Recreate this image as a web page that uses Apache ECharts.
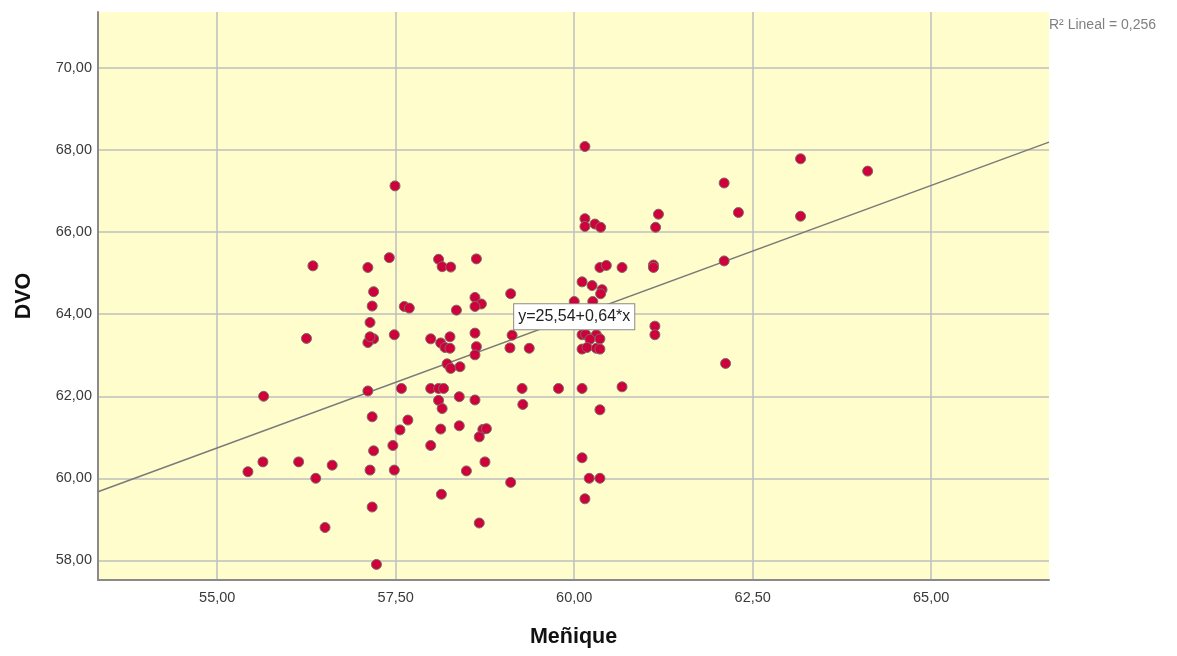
<!DOCTYPE html>
<html>
<head>
<meta charset="utf-8">
<title>DVO vs Meñique</title>
<script src="https://cdn.jsdelivr.net/npm/echarts@6/dist/echarts.min.js"></script>
<style>
  html, body { margin: 0; padding: 0; background: #ffffff; }
  #chart { width: 1177px; height: 656px; }
</style>
</head>
<body>
<div id="chart"></div>
<script>
// Meñique (x) values of each case
const menique = [
  57.49, 57.41, 56.34, 57.11, 57.19, 57.17, 57.14, 56.25, 57.19, 57.11,
  57.48, 55.65, 57.11, 57.58, 57.17, 57.56, 57.46, 57.19, 55.64, 55.43,
  56.14, 56.61, 56.38, 57.14, 57.48, 57.17, 56.51, 57.23, 58.10, 58.15,
  58.27, 58.63, 57.62, 57.69, 58.35, 58.61, 58.70, 58.61, 59.11, 57.99,
  58.26, 58.13, 58.19, 58.26, 58.61, 58.63, 58.61, 59.13, 59.10, 59.37,
  58.22, 58.27, 58.40, 57.99, 58.10, 58.17, 58.39, 58.61, 59.27, 59.78,
  58.10, 58.15, 59.28, 57.67, 58.13, 58.39, 58.72, 58.77, 58.67, 57.99,
  58.49, 58.75, 59.11, 58.14, 58.67, 60.15, 60.15, 60.15, 60.29, 60.37,
  61.18, 61.14, 60.36, 60.45, 60.67, 61.11, 61.11, 60.11, 60.25, 60.39,
  60.37, 60.00, 60.26, 61.13, 61.13, 60.11, 60.16, 60.31, 60.36, 60.22,
  60.11, 60.18, 60.31, 60.36, 60.11, 60.67, 60.36, 60.11, 60.21, 60.36,
  60.15, 62.10, 63.17, 64.11, 62.30, 63.17, 62.10, 62.12, 57.14
];

// DVO (y) values of each case, same order
const dvo = [
  67.13, 65.38, 65.18, 65.14, 64.55, 64.20, 63.80, 63.41, 63.40, 63.31,
  63.50, 62.00, 62.13, 62.19, 61.50, 61.18, 60.80, 60.67, 60.40, 60.16,
  60.40, 60.32, 60.00, 60.20, 60.20, 59.30, 58.80, 57.90, 65.34, 65.16,
  65.15, 65.35, 64.19, 64.15, 64.10, 64.41, 64.25, 64.19, 64.50, 63.40,
  63.45, 63.30, 63.19, 63.17, 63.54, 63.21, 63.01, 63.49, 63.18, 63.17,
  62.79, 62.68, 62.72, 62.19, 62.19, 62.19, 61.99, 61.91, 62.19, 62.19,
  61.90, 61.70, 61.80, 61.42, 61.20, 61.28, 61.19, 61.21, 61.01, 60.80,
  60.18, 60.40, 59.90, 59.61, 58.91, 68.09, 66.33, 66.14, 66.20, 66.12,
  66.44, 66.12, 65.14, 65.19, 65.14, 65.20, 65.14, 64.79, 64.70, 64.60,
  64.50, 64.31, 64.31, 63.71, 63.50, 63.50, 63.51, 63.50, 63.40, 63.39,
  63.15, 63.19, 63.17, 63.15, 62.19, 62.23, 61.67, 60.50, 60.00, 60.00,
  59.50, 67.20, 67.79, 67.49, 66.48, 66.39, 65.30, 62.80, 63.45
];

// Tick values shown on each axis
const xTicks = [55, 57.5, 60, 62.5, 65];
const yTicks = [58, 60, 62, 64, 66, 68, 70];

// Axis ranges
const xRange = [53.33, 66.65];
const yRange = [57.52, 71.37];

// Linear fit: y = a + b*x
const fitIntercept = 25.54;
const fitSlope = 0.64;
const fitR2 = 0.256;

const comma = (v, d) => v.toFixed(d).replace('.', ',');
const fitAt = x => fitIntercept + fitSlope * x;

const points = menique.map((x, i) => [x, dvo[i]]);
const fitLine = [[xRange[0], fitAt(xRange[0])], [xRange[1], fitAt(xRange[1])]];
const labelX = 60;

const sans = "'Liberation Sans', Arial, sans-serif";

const chart = echarts.init(document.getElementById('chart'), null, { renderer: 'canvas' });

const tickFont = { fontFamily: sans, fontSize: 14.5, color: '#3a3a3a' };
const nameFont = { fontFamily: sans, fontSize: 21.5, fontWeight: 'bold', color: '#111' };

chart.setOption({
  animation: false,
  backgroundColor: '#ffffff',
  title: {
    text: 'R² Lineal = ' + comma(fitR2, 3),
    left: 1044,
    top: 13,
    textStyle: { fontFamily: sans, fontSize: 14, fontWeight: 'normal', color: '#808080' }
  },
  grid: {
    left: 98, right: 128, top: 12, bottom: 76,
    show: true, backgroundColor: '#FFFDCC', borderWidth: 0
  },
  xAxis: {
    type: 'value',
    min: xRange[0], max: xRange[1],
    name: 'Meñique',
    nameLocation: 'middle',
    nameGap: 46,
    nameTextStyle: nameFont,
    axisLine: { show: true, lineStyle: { color: '#8a8a8a', width: 2 } },
    axisTick: { show: false, customValues: xTicks },
    axisLabel: { customValues: xTicks, margin: 10, formatter: v => comma(v, 2), ...tickFont },
    splitLine: { show: true, lineStyle: { color: '#BEBEBE', width: 1.5 } }
  },
  yAxis: {
    type: 'value',
    min: yRange[0], max: yRange[1],
    name: 'DVO',
    nameLocation: 'middle',
    nameGap: 63,
    nameRotate: 90,
    nameTextStyle: nameFont,
    axisLine: { show: true, lineStyle: { color: '#8a8a8a', width: 2 } },
    axisTick: { show: false, customValues: yTicks },
    axisLabel: { customValues: yTicks, margin: 6, formatter: v => comma(v, 2), ...tickFont },
    splitLine: { show: true, lineStyle: { color: '#BEBEBE', width: 1.5 } }
  },
  series: [
    {
      name: 'Ajuste lineal',
      type: 'line',
      data: fitLine,
      symbol: 'none',
      silent: true,
      z: 3,
      lineStyle: { color: '#7a7a7a', width: 1.5 },
      markPoint: {
        symbol: 'rect',
        symbolSize: 0,
        z: 10,
        data: [{ coord: [labelX, fitAt(labelX)] }],
        label: {
          show: true,
          position: 'inside',
          formatter: 'y=' + comma(fitIntercept, 2) + '+' + comma(fitSlope, 2) + '*x',
          fontFamily: sans,
          fontSize: 16,
          color: '#222',
          backgroundColor: '#ffffff',
          borderColor: '#8a8a8a',
          borderWidth: 1,
          padding: [5, 4, 4, 4]
        }
      }
    },
    {
      name: 'DVO',
      type: 'scatter',
      data: points,
      symbol: 'circle',
      symbolSize: 10,
      z: 4,
      itemStyle: { color: '#D0003A', borderColor: '#7d6a6a', borderWidth: 1, opacity: 1 }
    }
  ]
});
</script>
</body>
</html>
